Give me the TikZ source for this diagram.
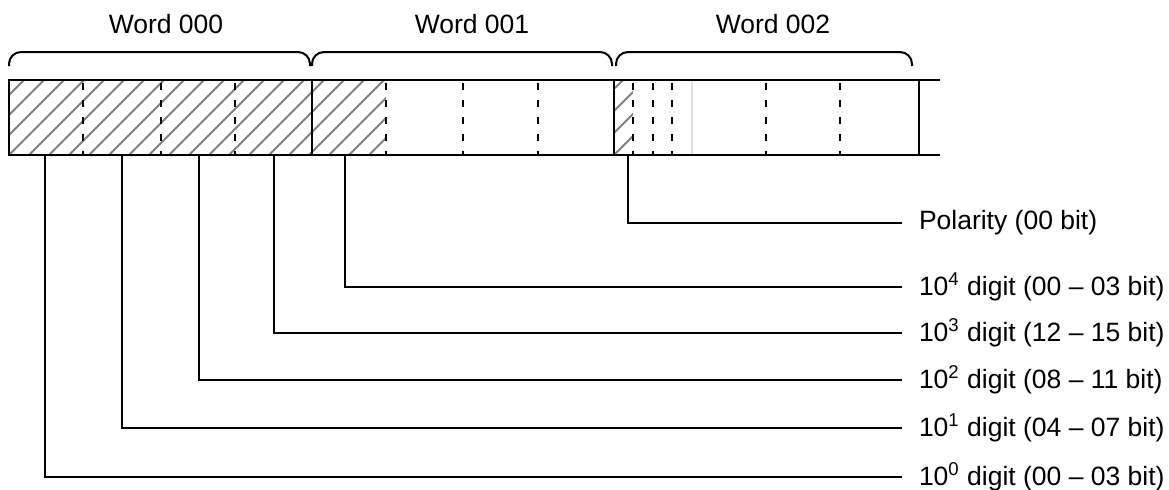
\documentclass[tikz,border=0pt]{standalone}
\usepackage{fontspec}
\setmainfont{Liberation Sans}
\begin{document}
\begin{tikzpicture}[x=0.5pt,y=-0.5pt,
  line width=1pt,
  lbl/.style={font=\fontsize{13.25}{16}\selectfont, inner sep=0pt},
  rowlbl/.style={lbl, anchor=west, inner xsep=8pt},
  hatchline/.style={draw=black!50, line width=1pt},
  bitdiv/.style={draw=black, dash pattern=on 3.5pt off 5pt, dash phase=-1.5pt},
  worddiv/.style={draw=black},
  faintdiv/.style={draw=black!12, line width=0.6pt},
  leader/.style={draw=black, line width=1pt},
  bracestyle/.style={draw=black, rounded corners=6pt, line width=1pt}]
\useasboundingbox (0,0) rectangle (1169,489);

% hatched areas
\begin{scope}
  \clip (9,80) rectangle (386,155);
  \foreach \k in {-5,...,20} \draw[hatchline] (9+\k*20,155) -- ++(80,-80);
\end{scope}
\begin{scope}
  \clip (614,80) rectangle (633,155);
  \foreach \k in {-4,...,1} \draw[hatchline] (614+\k*22,155) -- ++(80,-80);
\end{scope}

% bit dividers
\foreach \x in {83,161,235,386,463,538,633,653,672,766,840}
  \draw[bitdiv] (\x,80) -- (\x,155);
\draw[faintdiv] (692,80) -- (692,155);

% word outline
\draw (940,80) -- (9,80) -- (9,155) -- (940,155);
\foreach \x in {312,614,919}
  \draw[worddiv] (\x,80) -- (\x,155);

% braces
\draw[bracestyle] (9,66) -- (9,52) -- (310,52) -- (310,66);
\draw[bracestyle] (312,66) -- (312,52) -- (612,52) -- (612,66);
\draw[bracestyle] (616,66) -- (616,52) -- (912,52) -- (912,66);

% word labels
\node[lbl] (w0) at (166,24) {Word 000};
\node[lbl] (w1) at (472,24) {Word 001};
\node[lbl] (w2) at (773,24) {Word 002};

% leader start points
\coordinate (bp) at (628,155);
\coordinate (b4) at (345,155);
\coordinate (b3) at (274,155);
\coordinate (b2) at (199,155);
\coordinate (b1) at (122,155);
\coordinate (b0) at (45,155);

% labels
\node[rowlbl] (lp) at (902,223) {Polarity (00 bit)};
\node[rowlbl] (l4) at (902,287) {10\textsuperscript{4} digit (00 – 03 bit)};
\node[rowlbl] (l3) at (902,333) {10\textsuperscript{3} digit (12 – 15 bit)};
\node[rowlbl] (l2) at (902,380) {10\textsuperscript{2} digit (08 – 11 bit)};
\node[rowlbl] (l1) at (902,428) {10\textsuperscript{1} digit (04 – 07 bit)};
\node[rowlbl] (l0) at (902,477) {10\textsuperscript{0} digit (00 – 03 bit)};

% leaders
\draw[leader] (bp) |- (lp.west);
\draw[leader] (b4) |- (l4.west);
\draw[leader] (b3) |- (l3.west);
\draw[leader] (b2) |- (l2.west);
\draw[leader] (b1) |- (l1.west);
\draw[leader] (b0) |- (l0.west);
\end{tikzpicture}
\end{document}
